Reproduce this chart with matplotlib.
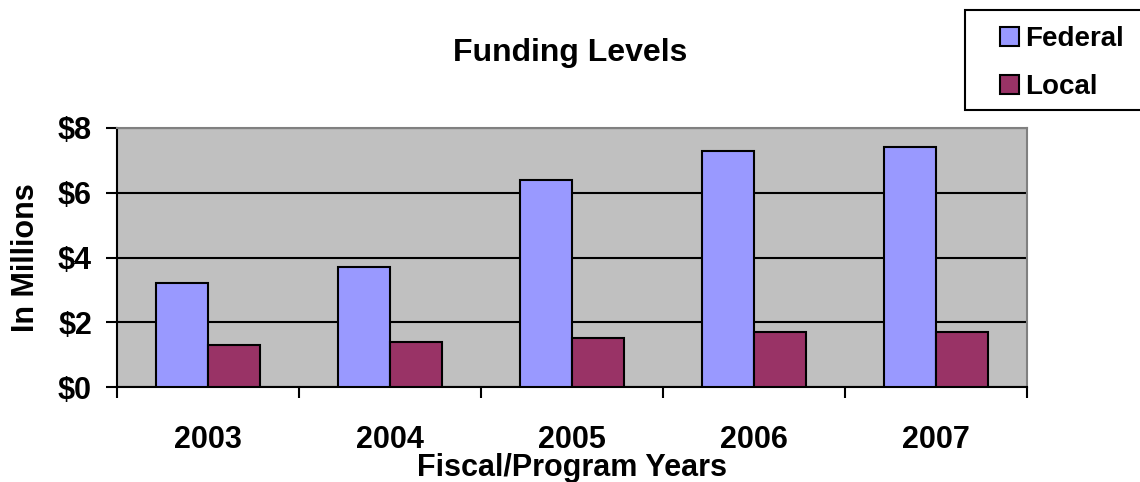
import numpy as np
import matplotlib.pyplot as plt
from matplotlib.patches import Rectangle

years = ['2003', '2004', '2005', '2006', '2007']
federal = [3.2, 3.7, 6.4, 7.3, 7.4]
local = [1.3, 1.4, 1.5, 1.7, 1.7]
yticks = [0, 2, 4, 6, 8]
ytick_labels = ['$0', '$2', '$4', '$6', '$8']

plt.rcParams['font.family'] = ['Liberation Sans', 'DejaVu Sans']
plt.rcParams['font.weight'] = 'bold'

fig = plt.figure(figsize=(11.4, 4.82), dpi=100)
ax = fig.add_axes([117/1140, 1 - 387/482, 910/1140, 259/482])
ax.set_facecolor('#C0C0C0')

x = np.arange(len(years))
w = 0.285
ax.bar(x - w/2, federal, w, color='#9999FF', edgecolor='black', linewidth=1.5, label='Federal', zorder=3)
ax.bar(x + w/2, local, w, color='#993366', edgecolor='black', linewidth=1.5, label='Local', zorder=3)

ax.set_xlim(-0.5, len(years) - 0.5)
ax.set_ylim(0, 8)
ax.set_yticks(yticks)
ax.set_yticklabels(ytick_labels, fontsize=22, fontweight='bold')
ax.set_xticks(x)
ax.set_xticklabels(years, fontsize=22, fontweight='bold')
ax.set_xticks(np.arange(len(years) + 1) - 0.5, minor=True)
ax.tick_params(axis='x', which='major', length=0, pad=27)
ax.tick_params(axis='x', which='minor', length=8, width=1.5, direction='out')
ax.tick_params(axis='y', length=8, width=1.5, direction='out', pad=10)

ax.yaxis.grid(True, color='black', linewidth=1.5, zorder=1)
ax.set_axisbelow(True)
for s in ['left', 'bottom']:
    ax.spines[s].set_color('black')
    ax.spines[s].set_linewidth(1.5)
for s in ['top', 'right']:
    ax.spines[s].set_color('#808080')
    ax.spines[s].set_linewidth(1.5)

ax.set_ylabel('In Millions', fontsize=22, fontweight='bold')
ax.yaxis.set_label_coords(-76/910, 0.5)
ax.set_xlabel('Fiscal/Program Years', fontsize=22, fontweight='bold')
ax.xaxis.set_label_coords(0.5, -(453 - 387) / 259)

fig.text(570/1140, 1 - 53/482, 'Funding Levels', fontsize=23, fontweight='bold', ha='center', va='center')

# legend box drawn by hand so it runs off the right edge like the original
fig.patches.append(Rectangle((965/1140, 1 - 110/482), 200/1140, 100/482, transform=fig.transFigure,
                             facecolor='white', edgecolor='black', linewidth=1.5, zorder=5))
leg = fig.legend(loc='upper left', bbox_to_anchor=(1000/1140, 1 - 26/482), fontsize=20,
                 handlelength=0.7, handleheight=0.7, handletextpad=0.2, borderpad=0,
                 labelspacing=0.8, frameon=False, borderaxespad=0)
leg.set_zorder(6)
for t in leg.get_texts():
    t.set_fontweight('bold')

fig.savefig('out.png', dpi=100)
